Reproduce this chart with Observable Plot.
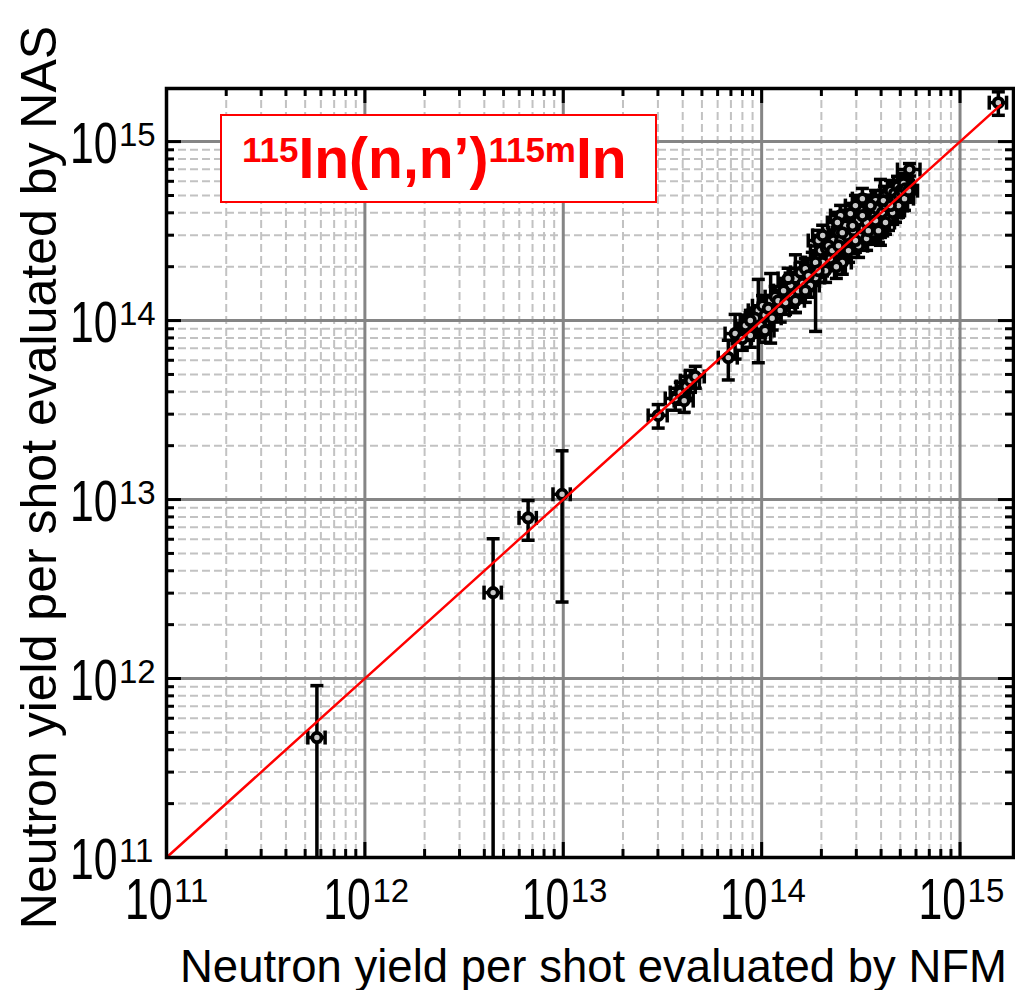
<!DOCTYPE html>
<html><head><meta charset="utf-8">
<script src="https://cdn.jsdelivr.net/npm/d3@7"></script>
<script src="https://cdn.jsdelivr.net/npm/@observablehq/plot@0.6"></script>
<style>
body{margin:0;background:#fff;}
#wrap{position:relative;width:1015px;height:990px;font-family:"Liberation Sans",Arial,sans-serif;}
#wrap svg{position:absolute;left:0;top:0;}
#legend{position:absolute;z-index:2;left:220px;top:114px;width:437px;height:89px;box-sizing:border-box;border:2px solid #ff0000;background:#fff;}
#legend .t{position:absolute;left:20px;top:14px;white-space:nowrap;font-weight:bold;color:#ff0000;font-size:57px;line-height:1;}
#legend .s{font-size:35px;position:relative;top:-16px;}
</style></head>
<body><div id="wrap"><div id="legend"><div class="t"><span class="s">115</span>In(n,n’)<span class="s">115m</span>In</div></div></div>
<script>
// ---- data ----
const nfm = [5.73e11, 4.43e12, 6.65e12, 9.86e12, 3.01e13, 3.67e13, 3.89e13, 4.17e13, 4.37e13, 4.63e13,
  4.07e13, 6.79e13, 7.35e13, 9.62e13, 8.98e13, 1.01e14, 1.11e14, 1.17e14, 8.57e13, 1.04e14,
  1.40e14, 1.48e14, 1.57e14, 1.66e14, 1.43e14, 1.87e14, 1.80e14, 1.98e14, 1.93e14, 2.12e14,
  2.30e14, 2.44e14, 2.22e14, 2.58e14, 2.74e14, 2.87e14, 3.01e14, 3.15e14, 3.34e14, 3.45e14,
  3.62e14, 3.75e14, 3.97e14, 4.16e14, 4.36e14, 4.46e14, 4.67e14, 4.84e14, 5.01e14, 5.19e14,
  3.54e14, 3.15e14, 2.80e14, 2.65e14, 3.88e14, 4.26e14, 5.56e14, 1.56e15, 2.50e14, 2.97e14,
  3.22e14, 2.55e14, 2.38e14,
  7.99e13, 8.28e13, 8.77e13, 9.29e13, 9.85e13, 1.08e14, 1.13e14, 1.21e14, 1.29e14, 1.32e14,
  1.36e14, 1.53e14, 1.61e14, 1.72e14, 1.76e14, 2.03e14, 2.10e14, 2.17e14, 2.35e14, 2.50e14,
  2.68e14, 2.90e14, 3.08e14, 3.26e14, 3.38e14, 3.70e14, 3.79e14, 4.06e14, 4.21e14, 4.57e14,
  4.78e14, 4.95e14, 5.13e14, 5.31e14, 3.08e14, 3.38e14, 3.66e14, 3.97e14, 4.36e14, 4.73e14,
  2.65e14, 2.80e14, 2.03e14, 2.41e14,
  1.66e14, 1.87e14, 2.27e14, 2.55e14, 2.74e14, 2.97e14, 3.22e14, 3.45e14, 3.54e14, 3.88e14,
  4.11e14, 4.21e14, 4.57e14, 4.90e14, 5.25e14, 5.50e14, 1.48e14, 1.24e14, 1.04e14, 8.77e13,
  1.93e14, 2.44e14, 2.87e14, 3.75e14, 4.46e14];
const nas = [4.68e11, 3.02e12, 7.9e12, 1.07e13, 2.95e13, 3.67e13, 3.96e13, 4.28e13, 4.62e13, 4.87e13,
  3.57e13, 6.21e13, 8.46e13, 1.14e14, 1.0e14, 1.21e14, 1.29e14, 1.36e14, 9.02e13, 1.07e14,
  1.57e14, 1.72e14, 1.86e14, 1.95e14, 1.38e14, 1.74e14, 2.11e14, 2.46e14, 2.80e14, 2.53e14,
  2.80e14, 3.10e14, 2.22e14, 3.27e14, 3.53e14, 3.86e14, 3.39e14, 4.12e14, 3.86e14, 4.39e14,
  4.12e14, 4.68e14, 4.39e14, 4.93e14, 4.68e14, 5.32e14, 5.12e14, 5.61e14, 5.32e14, 5.83e14,
  3.39e14, 2.99e14, 2.80e14, 2.53e14, 3.71e14, 4.01e14, 6.98e14, 1.65e15, 3.86e14, 4.39e14,
  4.80e14, 2.11e14, 2.00e14,
  7.93e13, 9.38e13, 8.25e13, 1.03e14, 9.38e13, 1.17e14, 1.03e14, 1.29e14, 1.47e14, 1.26e14,
  1.72e14, 1.47e14, 1.61e14, 1.78e14, 1.57e14, 2.11e14, 1.90e14, 2.62e14, 2.40e14, 2.80e14,
  2.99e14, 3.18e14, 3.62e14, 3.27e14, 3.53e14, 3.86e14, 4.22e14, 4.01e14, 4.39e14, 4.68e14,
  4.80e14, 4.99e14, 5.19e14, 5.46e14, 2.62e14, 2.87e14, 3.10e14, 3.39e14, 3.71e14, 4.12e14,
  3.39e14, 3.96e14, 2.99e14, 3.53e14,
  1.47e14, 2.11e14, 2.46e14, 3.10e14, 2.46e14, 2.80e14, 3.86e14, 3.18e14, 4.39e14, 3.18e14,
  4.68e14, 3.53e14, 4.01e14, 4.39e14, 4.80e14, 5.32e14, 1.29e14, 1.14e14, 8.79e13, 1.0e14,
  1.90e14, 2.62e14, 3.39e14, 3.62e14, 4.39e14];
// relative uncertainties (NFM, NAS)
const nfmErr = [0.1, 0.1, 0.1, 0.1, 0.11, 0.11, 0.11, 0.11, 0.11, 0.11,
  0.11, 0.11, 0.11, 0.11, 0.11, 0.11, 0.11, 0.11, 0.11, 0.11,
  0.11, 0.11, 0.11, 0.11, 0.11, 0.11, 0.11, 0.11, 0.11, 0.11,
  0.11, 0.11, 0.11, 0.11, 0.11, 0.11, 0.11, 0.11, 0.11, 0.11,
  0.11, 0.11, 0.11, 0.11, 0.11, 0.11, 0.11, 0.11, 0.11, 0.11,
  0.11, 0.11, 0.11, 0.11, 0.11, 0.11, 0.13, 0.1, 0.11, 0.11,
  0.11, 0.11, 0.11,
  0.11, 0.11, 0.11, 0.11, 0.11, 0.11, 0.11, 0.11, 0.11, 0.11,
  0.11, 0.11, 0.11, 0.11, 0.11, 0.11, 0.11, 0.11, 0.11, 0.11,
  0.11, 0.11, 0.11, 0.11, 0.11, 0.11, 0.11, 0.11, 0.11, 0.11,
  0.11, 0.11, 0.11, 0.11, 0.11, 0.11, 0.11, 0.11, 0.11, 0.11,
  0.11, 0.11, 0.11, 0.11,
  0.11, 0.11, 0.11, 0.11, 0.11, 0.11, 0.11, 0.11, 0.11, 0.11,
  0.11, 0.11, 0.11, 0.11, 0.11, 0.11, 0.11, 0.11, 0.11, 0.11,
  0.11, 0.11, 0.11, 0.11, 0.11];
const nasErr = [0.95, 1.0, 0.25, 0.75, 0.15, 0.14, 0.14, 0.14, 0.14, 0.14,
  0.14, 0.25, 0.28, 0.49, 0.14, 0.14, 0.42, 0.14, 0.14, 0.14,
  0.14, 0.355, 0.14, 0.14, 0.14, 0.5, 0.14, 0.14, 0.14, 0.14,
  0.14, 0.14, 0.14, 0.14, 0.14, 0.14, 0.14, 0.14, 0.14, 0.14,
  0.14, 0.14, 0.40, 0.14, 0.14, 0.14, 0.14, 0.14, 0.14, 0.14,
  0.14, 0.14, 0.14, 0.14, 0.14, 0.14, 0.08, 0.15, 0.14, 0.14,
  0.14, 0.14, 0.14,
  0.14, 0.14, 0.14, 0.14, 0.14, 0.14, 0.14, 0.14, 0.14, 0.14,
  0.14, 0.14, 0.14, 0.14, 0.14, 0.14, 0.14, 0.14, 0.14, 0.14,
  0.14, 0.14, 0.14, 0.14, 0.14, 0.14, 0.14, 0.14, 0.14, 0.14,
  0.14, 0.14, 0.14, 0.14, 0.14, 0.14, 0.14, 0.14, 0.14, 0.14,
  0.14, 0.14, 0.14, 0.14,
  0.14, 0.14, 0.14, 0.14, 0.14, 0.14, 0.14, 0.14, 0.14, 0.14,
  0.14, 0.14, 0.14, 0.14, 0.14, 0.14, 0.14, 0.14, 0.14, 0.14,
  0.14, 0.14, 0.14, 0.14, 0.14];
const majorTicks = [1e11, 1e12, 1e13, 1e14, 1e15];
const tickBase = "10";
const tickExponents = ["11", "12", "13", "14", "15"];
const fitLine = [1e11, 1.6e15];          // y = x reference line
const xDomain = [1e11, 1.86e15];
const yDomain = [1e11, 1.98e15];
const xTitle = "Neutron yield per shot evaluated by NFM";
const yTitle = "Neutron yield per shot evaluated by NAS";

// ---- build ----
const points = nfm.map((x, i) => ({
  x, y: nas[i],
  xLo: x * (1 - nfmErr[i]), xHi: x * (1 + nfmErr[i]),
  yLo: Math.max(nas[i] * (1 - nasErr[i]), 1e9), yHi: nas[i] * (1 + nasErr[i])
}));
const minorOf = (dom) => d3.range(11, 16).flatMap(e => d3.range(2, 10).map(k => k * 10 ** e))
  .filter(v => v > dom[0] && v < dom[1]);
const xMinor = minorOf(xDomain), yMinor = minorOf(yDomain);
const xMajor = majorTicks.filter(v => v <= xDomain[1]);
const yMajor = majorTicks.filter(v => v <= yDomain[1]);

const W = 1015, H = 990, mL = 166, mR = 2, mT = 88, mB = 133;
const pw = W - mL - mR, ph = H - mT - mB;
const minorLen = 8, majorLen = 15;
const hcap = {draw(ctx) { ctx.moveTo(-6.5, 0); ctx.lineTo(6.5, 0); }};
const vcap = {draw(ctx) { ctx.moveTo(0, -7); ctx.lineTo(0, 7); }};
const font = '"Liberation Sans", Arial, sans-serif';
const blk = {stroke: "black", strokeWidth: 3};
const eb = {stroke: "black", strokeWidth: 3.5};

const chart = Plot.plot({
  width: W, height: H, marginLeft: mL, marginRight: mR, marginTop: mT, marginBottom: mB,
  x: {type: "log", domain: xDomain, axis: null},
  y: {type: "log", domain: yDomain, axis: null},
  style: {fontFamily: font, background: "white", overflow: "visible"},
  marks: [
    // minor grid
    Plot.ruleX(xMinor, {x: d => d, stroke: "#c2c2c2", strokeWidth: 2, strokeDasharray: "8,4"}),
    Plot.ruleY(yMinor, {y: d => d, stroke: "#c2c2c2", strokeWidth: 2, strokeDasharray: "8,4"}),
    // major grid
    Plot.ruleX(xMajor.slice(1), {x: d => d, stroke: "#858585", strokeWidth: 3}),
    Plot.ruleY(yMajor.slice(1), {y: d => d, stroke: "#858585", strokeWidth: 3}),
    // inward ticks
    Plot.tickX(xMinor, {x: d => d, insetTop: ph - minorLen, ...blk}),
    Plot.tickX(xMinor, {x: d => d, insetBottom: ph - minorLen, ...blk}),
    Plot.tickX(xMajor, {x: d => d, insetTop: ph - majorLen, ...blk}),
    Plot.tickX(xMajor, {x: d => d, insetBottom: ph - majorLen, ...blk}),
    Plot.tickY(yMinor, {y: d => d, insetRight: pw - minorLen, ...blk}),
    Plot.tickY(yMinor, {y: d => d, insetLeft: pw - minorLen, ...blk}),
    Plot.tickY(yMajor, {y: d => d, insetRight: pw - majorLen, ...blk}),
    Plot.tickY(yMajor, {y: d => d, insetLeft: pw - majorLen, ...blk}),
    // error bars
    Plot.ruleX(points, {x: "x", y1: "yLo", y2: "yHi", ...eb, clip: true}),
    Plot.ruleY(points, {y: "y", x1: "xLo", x2: "xHi", ...eb, clip: true}),
    Plot.dot(points, {x: "x", y: "yHi", symbol: hcap, fill: "none", ...eb, clip: true}),
    Plot.dot(points, {x: "x", y: "yLo", symbol: hcap, fill: "none", ...eb, clip: true}),
    Plot.dot(points, {x: "xLo", y: "y", symbol: vcap, fill: "none", ...eb, clip: true}),
    Plot.dot(points, {x: "xHi", y: "y", symbol: vcap, fill: "none", ...eb, clip: true}),
    Plot.dot(points, {x: "x", y: "y", r: 4.6, stroke: "black", strokeWidth: 3.8, fill: "#c8c8c8"}),
    // y = x line
    Plot.line(fitLine, {x: d => d, y: d => d, stroke: "#ff0000", strokeWidth: 2.5}),
    Plot.frame({stroke: "black", strokeWidth: 3.5}),
    // tick labels
    Plot.text(xMajor, {x: d => d, frameAnchor: "bottom", text: () => tickBase, textAnchor: "end", lineAnchor: "bottom",
      dx: 6, dy: 61, fontSize: 57, fill: "black", fontFamily: font}),
    Plot.text(xMajor, {x: d => d, frameAnchor: "bottom", text: (d, i) => tickExponents[i], textAnchor: "start", lineAnchor: "bottom",
      dx: 7.5, dy: 44, fontSize: 33, fill: "black", fontFamily: font}),
    Plot.text(yMajor, {y: d => d, frameAnchor: "left", text: () => tickBase, textAnchor: "end", lineAnchor: "bottom",
      dx: -49, dy: 21, fontSize: 57, fill: "black", fontFamily: font}),
    Plot.text(yMajor, {y: d => d, frameAnchor: "left", text: (d, i) => tickExponents[i], textAnchor: "start", lineAnchor: "bottom",
      dx: -47.5, dy: 4, fontSize: 33, fill: "black", fontFamily: font}),
    // axis titles
    Plot.text([xTitle], {frameAnchor: "bottom", text: d => d, textAnchor: "middle", lineAnchor: "bottom", dx: 3.5, dy: 124, fontSize: 45.5, fill: "black", fontFamily: font}),
    Plot.text([yTitle], {frameAnchor: "left", text: d => d, textAnchor: "middle", rotate: -90, lineAnchor: "middle", dx: -127, dy: 4.5, fontSize: 50, fill: "black", fontFamily: font})
  ]
});
// condensed tick-label digits, as typeset in the reference (horizontal squeeze about the anchor)
const svg = d3.select(chart);
svg.selectAll("text").filter(function() { return this.textContent === tickBase; })
  .each(function() {
    const t = this.getAttribute("transform");
    if (t) {
      this.setAttribute("transform", t + " scale(0.75,1)");
    } else {
      const x = +this.getAttribute("x") || 0, y = +this.getAttribute("y") || 0;
      this.removeAttribute("x"); this.removeAttribute("y");
      this.setAttribute("transform", `translate(${x},${y}) scale(0.75,1)`);
    }
  });
const wrap = document.getElementById("wrap");
wrap.insertBefore(chart, wrap.firstChild);
</script>
</body></html>
